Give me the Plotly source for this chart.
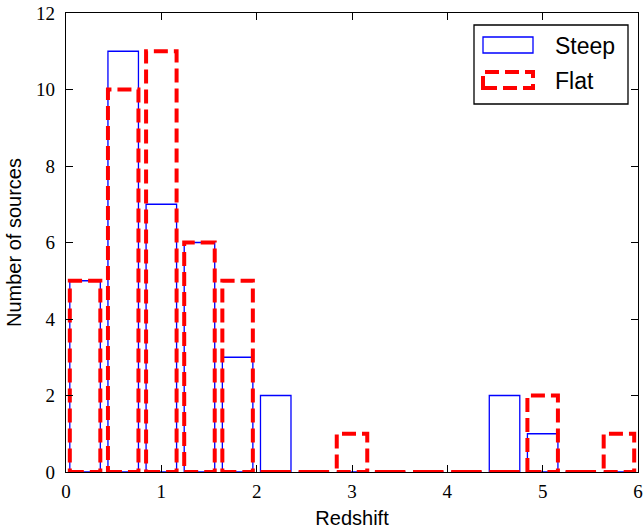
import numpy as np
import plotly.graph_objects as go

# ---- data ----
bin_start = 0.0
bin_width = 0.4
steep_counts = [5, 11, 7, 6, 3, 2, 0, 0, 0, 0, 0, 2, 1, 0, 0]
flat_counts = [5, 10, 11, 6, 5, 0, 0, 1, 0, 0, 0, 0, 2, 0, 1]
x_ticks = [0, 1, 2, 3, 4, 5, 6]
y_ticks = [0, 2, 4, 6, 8, 10, 12]
series_names = ["Steep", "Flat"]

rwidth = 0.8


def bar_outlines(counts):
    edges = bin_start + bin_width * np.arange(len(counts) + 1)
    pad = (1 - rwidth) / 2 * bin_width
    xs, ys = [], []
    for i, h in enumerate(counts):
        l = edges[i] + pad
        r = edges[i + 1] - pad
        xs += [l, r, r, l, l, None]
        ys += [0, 0, h, h, 0, None]
    return xs, ys


fig = go.Figure()
sx, sy = bar_outlines(steep_counts)
fig.add_trace(go.Scatter(x=sx, y=sy, mode="lines", name=series_names[0],
                         line=dict(color="#0000ff", width=1.3),
                         showlegend=False, hoverinfo="skip"))
fx, fy = bar_outlines(flat_counts)
fig.add_trace(go.Scatter(x=fx, y=fy, mode="lines", name=series_names[1],
                         line=dict(color="#ff0000", width=4, dash="14px,6px"),
                         showlegend=False, hoverinfo="skip"))

L, R, T, B = 66, 638, 13, 472
W, H = 644, 529


def px(x):
    return (x - L) / (R - L)


def py(y):
    return (B - y) / (B - T)


shapes = [
    dict(type="rect", xref="paper", yref="paper", x0=px(474), x1=px(628), y0=py(104), y1=py(25),
         line=dict(color="black", width=1.3), fillcolor="white", layer="above"),
    dict(type="rect", xref="paper", yref="paper", x0=px(483), x1=px(533), y0=py(53), y1=py(37),
         line=dict(color="#0000ff", width=1.3), layer="above"),
    dict(type="rect", xref="paper", yref="paper", x0=px(483), x1=px(533), y0=py(88), y1=py(72),
         line=dict(color="#ff0000", width=4, dash="14px,6px"), layer="above"),
]
annotations = [
    dict(xref="paper", yref="paper", x=px(553), y=py(46), text=series_names[0], showarrow=False,
         xanchor="left", yanchor="middle", font=dict(family="Liberation Sans", size=23, color="black")),
    dict(xref="paper", yref="paper", x=px(553), y=py(81), text=series_names[1], showarrow=False,
         xanchor="left", yanchor="middle", font=dict(family="Liberation Sans", size=23, color="black")),
]

fig.update_layout(
    width=W, height=H,
    margin=dict(l=L, r=W - R, t=T, b=H - B, autoexpand=False),
    paper_bgcolor="white", plot_bgcolor="white",
    shapes=shapes, annotations=annotations,
    showlegend=False,
    xaxis=dict(range=[0, 6], tickvals=x_ticks, ticktext=[str(v) for v in x_ticks],
               showgrid=False, zeroline=False, showline=True, mirror="ticks",
               linecolor="black", linewidth=1.2, ticks="inside", ticklen=7, tickcolor="black",
               tickfont=dict(family="Liberation Serif", size=19, color="black"),
               ticklabelstandoff=2,
               title=dict(text="Redshift", font=dict(family="Liberation Sans", size=20, color="black"),
                          standoff=10)),
    yaxis=dict(range=[0, 12], tickvals=y_ticks, ticktext=[str(v) for v in y_ticks],
               showgrid=False, zeroline=False, showline=True, mirror="ticks",
               linecolor="black", linewidth=1.2, ticks="inside", ticklen=7, tickcolor="black",
               tickfont=dict(family="Liberation Serif", size=19, color="black"),
               ticklabelstandoff=6,
               title=dict(text="Number of sources", font=dict(family="Liberation Sans", size=20, color="black"),
                          standoff=9)),
)

fig.write_html("out.html", config={"displayModeBar": False},
               post_script="document.body.style.margin='0';document.body.style.padding='0';")
